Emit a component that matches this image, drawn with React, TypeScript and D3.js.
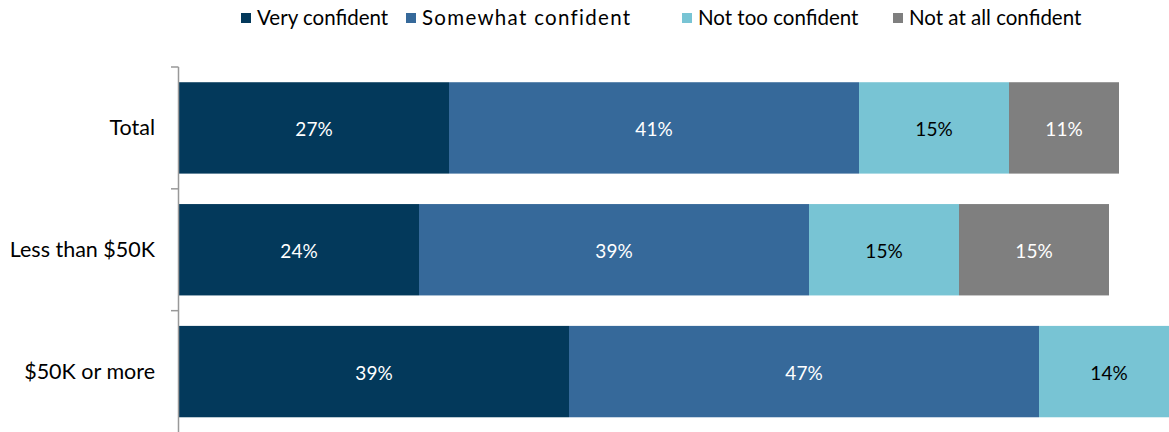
import React from "react";
import * as d3 from "d3";

const categories = ["Total", "Less than $50K", "$50K or more"];
const seriesNames = ["Very confident", "Somewhat confident", "Not too confident", "Not at all confident"];
const veryConfident = [27, 24, 39];
const somewhatConfident = [41, 39, 47];
const notTooConfident = [15, 15, 14];
const notAtAllConfident = [11, 15, 0];
const colors = ["#03395B", "#36699A", "#78C4D4", "#7F7F7F"];
const labelColors = ["#ffffff", "#ffffff", "#000000", "#ffffff"];

const W = 1169, H = 432;
const FONT = "Lato, 'Open Sans', sans-serif";

export default function App() {
  const series = [veryConfident, somewhatConfident, notTooConfident, notAtAllConfident];
  const x = d3.scaleLinear().domain([0, 100]).range([179, 1179]);
  const y = d3.scaleBand().domain(categories).range([67, 432.5]).paddingInner(0.25).paddingOuter(0.125);
  const bands = categories.map((_, i) => 67 + i * (432.5 - 67) / 3);
  const legendX = [241, 406, 682, 893];
  const legendSpacing = [0, 1.3, 0, 0];

  return (
    <svg width={W} height={H} style={{ position: "absolute", left: 0, top: 0 }} fontFamily={FONT}>
      <rect width={W} height={H} fill="#fff" />
      {seriesNames.map((n, i) => (
        <g key={n}>
          <rect x={legendX[i]} y={13} width={10} height={10} fill={colors[i]} />
          <text x={legendX[i] + 16} y={25} fontSize={20.5} letterSpacing={legendSpacing[i]} fill="#000">{n}</text>
        </g>
      ))}
      {categories.map((c, ci) => {
        let acc = 0;
        return (
          <g key={c}>
            {series.map((s, si) => {
              const v = s[ci];
              if (!v) return null;
              const x0 = x(acc);
              acc += v;
              const x1 = x(acc);
              return (
                <g key={si}>
                  <rect x={x0} y={y(c)!} width={x1 - x0} height={y.bandwidth()} fill={colors[si]} />
                  <text x={(x0 + x1) / 2} y={y(c)! + y.bandwidth() / 2 + 8} textAnchor="middle" fontSize={19} fill={labelColors[si]}>{v}%</text>
                </g>
              );
            })}
            <text x={155} y={y(c)! + y.bandwidth() / 2 + 7} textAnchor="end" fontSize={21.5} fill="#000">{c}</text>
          </g>
        );
      })}
      <line x1={178.5} x2={178.5} y1={67} y2={H} stroke="#999" strokeWidth={1.5} />
      {bands.map((b, i) => (
        <line key={i} x1={171} x2={178.5} y1={b} y2={b} stroke="#999" strokeWidth={1.5} />
      ))}
    </svg>
  );
}
